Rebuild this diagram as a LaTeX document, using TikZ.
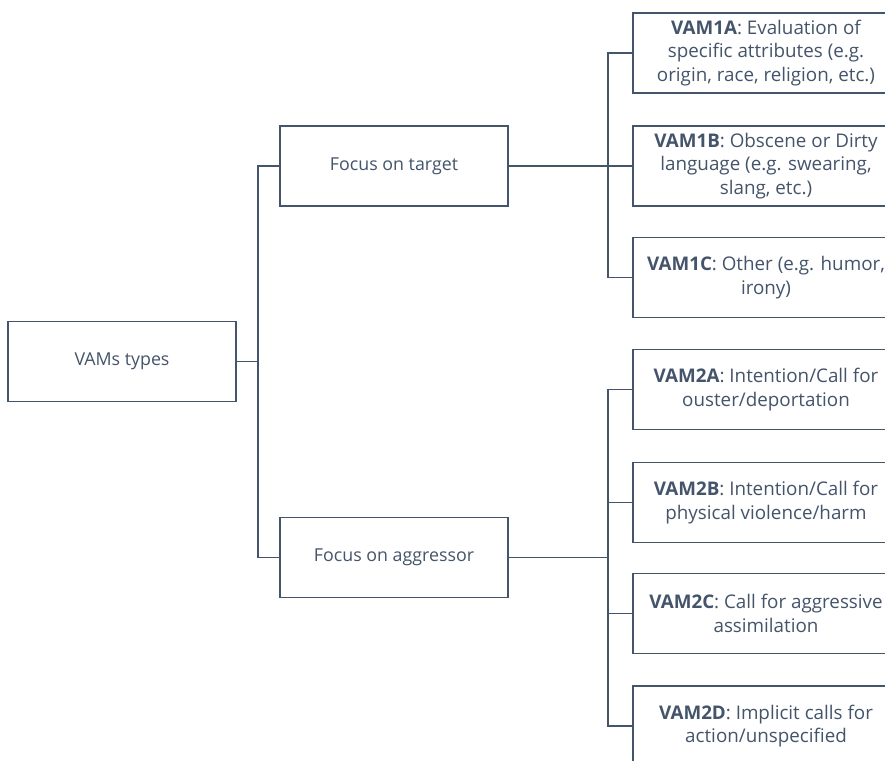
\documentclass[tikz,border=0pt]{standalone}
\usepackage{fontspec}
\setmainfont{Open Sans}
\definecolor{slate}{HTML}{44546A}
\begin{document}
\begin{tikzpicture}[x=1pt,y=-1pt,
  box/.style={draw=slate,line width=1.6pt,fill=white,text=slate,align=center,
    minimum height=80pt,inner sep=2pt,outer sep=0pt},
  lbox/.style={box,minimum width=228pt,font=\fontsize{17.8}{21.7}\selectfont},
  rbox/.style={box,minimum width=266pt,font=\fontsize{18.8}{23.6}\selectfont},
  conn/.style={draw=slate,line width=1.2pt}]
\useasboundingbox (0,0) rectangle (885,760);
\clip (0,0) rectangle (885,760);
\node[lbox] (root) at (122,361.5) {VAMs types};
\node[lbox] (t) at (394,166) {Focus on target};
\node[lbox] (a) at (394,557.5) {Focus on aggressor};
\node[rbox] (v1a) at (766,53) {\textbf{VAM1A}: Evaluation of\\specific attributes (e.g.\\origin, race, religion, etc.)};
\node[rbox] (v1b) at (766,166) {\textbf{VAM1B}: Obscene or Dirty\\language (e.g. swearing,\\slang, etc.)};
\node[rbox] (v1c) at (766,277.5) {\textbf{VAM1C}: Other (e.g. humor,\\irony)};
\node[rbox] (v2a) at (766,389.5) {\textbf{VAM2A}: Intention/Call for\\ouster/deportation};
\node[rbox] (v2b) at (766,502.5) {\textbf{VAM2B}: Intention/Call for\\physical violence/harm};
\node[rbox] (v2c) at (766,613.5) {\textbf{VAM2C}: Call for aggressive\\assimilation};
\node[rbox] (v2d) at (766,726) {\textbf{VAM2D}: Implicit calls for\\action/unspecified};
\coordinate (j0) at (258,361.5);
\coordinate (j1) at (608,166);
\coordinate (j2) at (608,557.5);
\draw[conn] (root.east) -- (j0);
\draw[conn] (t.west) -| (j0) |- (a.west);
\draw[conn] (t.east) -- (j1);
\draw[conn] (v1a.west) -| (j1) |- (v1c.west);
\draw[conn] (v1b.west) -- (j1);
\draw[conn] (a.east) -- (j2);
\draw[conn] (v2a.west) -| (j2) |- (v2d.west);
\draw[conn] (v2b.west) -| (j2);
\draw[conn] (v2c.west) -| (j2);
\end{tikzpicture}
\end{document}
